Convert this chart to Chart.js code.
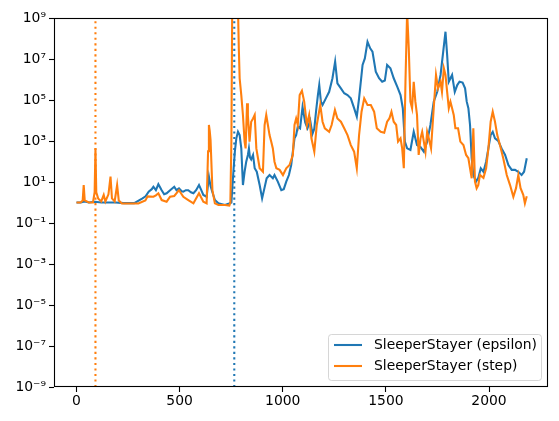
<!DOCTYPE html>
<html>
<head>
<meta charset="utf-8">
<script src="https://cdn.jsdelivr.net/npm/chart.js@4"></script>
<style>
  html,body{margin:0;padding:0;background:#fff;}
  canvas{display:block;}
</style>
</head>
<body>
<canvas id="chart" width="559" height="421"></canvas>
<script>
/* ---------- data (y kept as log10) ---------- */
const epsilonX = [
  0, 20, 40, 60, 90, 120, 150, 190, 230, 280,
  320, 335, 350, 365, 373, 385, 397, 413, 425, 437,
  454, 474, 485, 497, 510, 518, 530, 542, 555, 567,
  580, 594, 605, 615, 631, 642, 650, 659, 671, 688,
  705, 720, 740, 751, 756, 762, 768, 775, 783, 791,
  799, 807, 815, 823, 831, 836, 841, 847, 856, 864,
  874, 888, 900, 911, 922, 936, 952, 960, 976, 993,
  1005, 1017, 1030, 1041, 1057, 1065, 1073, 1084, 1096, 1109,
  1120, 1133, 1144, 1153, 1162, 1170, 1177, 1185, 1193, 1209,
  1225, 1241, 1254, 1265, 1282, 1298, 1314, 1330, 1346, 1359,
  1370, 1387, 1398, 1411, 1424, 1435, 1451, 1467, 1482, 1495,
  1506, 1522, 1538, 1555, 1571, 1582, 1592, 1603, 1619, 1635,
  1651, 1668, 1684, 1700, 1716, 1732, 1749, 1765, 1778, 1789,
  1797, 1805, 1821, 1834, 1846, 1857, 1872, 1884, 1892, 1900,
  1908, 1916, 1924, 1937, 1948, 1960, 1973, 1986, 1997, 2008,
  2018, 2029, 2045, 2061, 2078, 2094, 2110, 2126, 2142, 2158,
  2170, 2183
];
const epsilonExp = [
  0, 0, 0.05, 0, 0.04, 0, 0, 0, -0.03, -0.03,
  0.2, 0.3, 0.53, 0.65, 0.77, 0.6, 0.89, 0.6, 0.4, 0.45,
  0.6, 0.77, 0.6, 0.69, 0.55, 0.53, 0.6, 0.6, 0.5, 0.45,
  0.6, 0.85, 0.6, 0.37, 0.28, 1.26, 0.8, 0.5, 0.12, -0.04,
  -0.08, -0.12, -0.05, 0, 0.8, 1.67, 2.5, 3.13, 3.45, 3.29,
  2.64, 0.85, 1.5, 1.99, 2.32, 2.64, 2.2, 2.1, 2.32, 1.67,
  1.5, 0.85, 0.2, 0.69, 1.18, 1.34, 1.18, 1.34, 1.02, 0.6,
  0.65, 1.02, 1.34, 1.83, 3.13, 3.29, 3.7, 3.62, 4.67, 3.9,
  3.62, 4.0, 3.35, 3.6, 4.5, 5.2, 5.73, 4.92, 4.76, 5.08,
  5.4, 6.06, 6.87, 5.81, 5.57, 5.33, 5.24, 5.08, 4.6, 4.19,
  5.08, 6.71, 7.03, 7.84, 7.52, 7.36, 6.38, 6.06, 5.89, 5.95,
  6.71, 6.55, 6.06, 5.65, 5.24, 4.6, 2.97, 2.64, 2.56, 3.45,
  2.8, 2.7, 2.48, 2.97, 3.78, 4.92, 5.4, 6.22, 7.36, 8.33,
  7.2, 5.89, 6.22, 5.4, 5.73, 5.89, 5.85, 5.57, 4.92, 4.6,
  3.78, 2.16, 1.34, 1.02, 1.2, 1.67, 1.5, 1.99, 2.64, 3.29,
  3.45, 3.13, 3.0, 2.64, 2.32, 1.83, 1.59, 1.59, 1.5, 1.34,
  1.5, 2.16
];
const stepX = [
  0, 20, 30, 35, 40, 60, 80, 88, 92, 96,
  105, 120, 132, 140, 155, 165, 172, 185, 197, 205,
  220, 260, 300, 334, 345, 373, 385, 397, 413, 437,
  454, 474, 497, 518, 542, 567, 594, 615, 631, 638,
  642, 646, 650, 659, 671, 688, 720, 741, 746, 751,
  755, 783, 787, 791, 799, 807, 815, 820, 827, 831,
  839, 847, 856, 864, 872, 880, 888, 904, 912, 920,
  928, 936, 944, 952, 960, 969, 985, 1001, 1017, 1033,
  1049, 1057, 1065, 1073, 1082, 1093, 1104, 1117, 1128, 1139,
  1153, 1165, 1182, 1193, 1204, 1225, 1237, 1253, 1265, 1282,
  1298, 1314, 1330, 1346, 1359, 1370, 1382, 1395, 1411, 1427,
  1443, 1456, 1475, 1492, 1506, 1517, 1527, 1538, 1550, 1559,
  1571, 1579, 1587, 1595, 1603, 1611, 1619, 1627, 1635, 1643,
  1651, 1659, 1668, 1676, 1684, 1692, 1700, 1708, 1719, 1732,
  1743, 1753, 1765, 1772, 1781, 1789, 1797, 1805, 1813, 1821,
  1829, 1837, 1850, 1861, 1876, 1889, 1900, 1908, 1916, 1924,
  1932, 1940, 1948, 1956, 1973, 1986, 1997, 2008, 2018, 2029,
  2040, 2053, 2069, 2086, 2102, 2118, 2131, 2142, 2153, 2166,
  2174, 2183
];
const stepExp = [
  0, 0, 0.1, 0.85, 0.1, 0, 0, 0.5, 2.64, 0.5,
  0.2, 0.05, 0.37, 0.05, 0.4, 1.26, 0.2, 0.05, 0.85, 0.1,
  -0.05, -0.05, -0.05, 0.1, 0.3, 0.28, 0.35, 0.45, 0.12, 0.04,
  0.28, 0.32, 0.6, 0.28, 0.12, -0.04, 0.45, 0.04, -0.04, 2.5,
  3.78, 3.5, 3.05, 0.6, -0.04, -0.12, -0.12, -0.15, 0, 3,
  9.5, 9.5, 7.52, 6.06, 5.24, 4.27, 2.97, 2.64, 4.84, 4.27,
  2.97, 3.94, 4.1, 4.27, 2.64, 2.16, 1.67, 1.5, 3.78, 4.27,
  3.78, 3.29, 2.97, 2.64, 1.99, 1.67, 1.59, 1.34, 1.67, 1.83,
  2.32, 3.78, 4.1, 3.78, 5.24, 5.45, 4.92, 3.78, 4.27, 3.13,
  2.48, 3.78, 4.76, 3.94, 3.62, 3.45, 3.78, 4.51, 4.1, 3.94,
  3.62, 3.29, 2.8, 2.48, 1.67, 3.29, 4.43, 5.08, 4.76, 4.76,
  4.43, 3.62, 3.45, 3.4, 3.94, 4.1, 4.43, 3.94, 3.78, 2.97,
  3.13, 2.64, 1.67, 5.89, 9.3, 7.52, 4.92, 4.6, 5.89, 4.92,
  4.27, 2.32, 3.13, 3.45, 2.97, 2.48, 3.45, 3.13, 2.64, 4.6,
  6.22, 5.57, 5.89, 5.4, 6.55, 6.22, 5.4, 4.6, 4.92, 4.6,
  4.27, 3.62, 3.62, 2.97, 2.8, 2.32, 2.16, 1.67, 1.18, 3.62,
  1.02, 0.69, 0.85, 1.34, 1.2, 1.67, 2.64, 3.94, 4.43, 3.94,
  3.29, 2.8, 2.16, 1.34, 0.85, 0.28, 0.7, 1.34, 0.7, 0.37,
  -0.04, 0.3
];
const seriesNames = ['SleeperStayer (epsilon)', 'SleeperStayer (step)'];
const seriesColors = ['#1f77b4', '#ff7f0e'];
const markerX = [765, 92];              // dotted vertical lines: epsilon, step
const xTicks = [0, 500, 1000, 1500, 2000];
const yTickExps = [-9, -7, -5, -3, -1, 1, 3, 5, 7, 9];
const yTickLabels = ['10⁻⁹','10⁻⁷','10⁻⁵','10⁻³','10⁻¹','10¹','10³','10⁵','10⁷','10⁹'];

/* ---------- helpers ---------- */
const FONT = 'DejaVu Sans';
const LW = 2.08;                        // 1.5pt at 100 dpi
const pts = (xs, es) => xs.map((x, i) => ({ x, y: Math.pow(10, es[i]) }));
const vline = x => [{ x, y: 1e-9 }, { x, y: 1e9 }];

/* frame + legend drawn like matplotlib */
const mplDecor = {
  id: 'mplDecor',
  afterDatasetsDraw(c){
    const { ctx, chartArea:a } = c;
    ctx.save();
    ctx.strokeStyle = '#000'; ctx.lineWidth = 1.1;
    ctx.strokeRect(Math.round(a.left)+0.5, Math.round(a.top)+0.5,
                   Math.round(a.right-a.left)-1, Math.round(a.bottom-a.top)-1);
    ctx.restore();
  },
  afterDraw(c){
    const { ctx, chartArea:a } = c;
    const w = 213, h = 46, x0 = a.right - 7 - w, y0 = a.bottom - 7 - h;
    ctx.save();
    ctx.beginPath();
    ctx.roundRect(x0 + 0.5, y0 + 0.5, w, h, 3);
    ctx.fillStyle = 'rgba(255,255,255,0.8)'; ctx.fill();
    ctx.strokeStyle = 'rgba(204,204,204,0.8)'; ctx.lineWidth = 1; ctx.stroke();
    ctx.font = `13.9px "${FONT}"`;
    ctx.textBaseline = 'middle';
    seriesNames.forEach((name, i) => {
      const yy = y0 + 11 + i * 21;
      ctx.strokeStyle = seriesColors[i]; ctx.lineWidth = LW;
      ctx.beginPath(); ctx.moveTo(x0 + 6, yy); ctx.lineTo(x0 + 34, yy); ctx.stroke();
      ctx.fillStyle = '#000';
      ctx.fillText(name, x0 + 46, yy);
    });
    ctx.restore();
  }
};

/* ---------- chart ---------- */
new Chart(document.getElementById('chart').getContext('2d'), {
  type: 'line',
  data: {
    datasets: [
      { label: seriesNames[0], data: pts(epsilonX, epsilonExp), borderColor: seriesColors[0],
        borderWidth: LW, pointRadius: 0, tension: 0, order: 3 },
      { label: seriesNames[1], data: pts(stepX, stepExp), borderColor: seriesColors[1],
        borderWidth: LW, pointRadius: 0, tension: 0, order: 2 },
      { label: 'eps-mark', data: vline(markerX[0]), borderColor: seriesColors[0],
        borderWidth: LW, borderDash: [2.08, 3.43], pointRadius: 0, order: 1 },
      { label: 'step-mark', data: vline(markerX[1]), borderColor: seriesColors[1],
        borderWidth: LW, borderDash: [2.08, 3.43], pointRadius: 0, order: 1 }
    ]
  },
  options: {
    responsive: false,
    animation: false,
    devicePixelRatio: 1,
    layout: { padding: { top: 18, right: 11, left: 0, bottom: 0 } },
    plugins: { legend: { display: false }, tooltip: { enabled: false } },
    scales: {
      x: {
        type: 'linear', min: -109, max: 2286,
        afterBuildTicks: s => { s.ticks = xTicks.map(v => ({ value: v })); },
        afterFit: s => { s.height = 34; },
        grid: { display: true, drawOnChartArea: false, drawTicks: true, tickLength: 5, tickWidth: 1.1, color: '#000' },
        border: { display: false },
        ticks: { color: '#000', font: { family: FONT, size: 13.9 }, padding: 1, maxRotation: 0,
                 callback: v => String(v) }
      },
      y: {
        type: 'logarithmic', min: 1e-9, max: 1e9,
        afterBuildTicks: s => { s.ticks = yTickExps.map(e => ({ value: Math.pow(10, e) })); },
        afterFit: s => { s.width = 54; },
        grid: { display: true, drawOnChartArea: false, drawTicks: true, tickLength: 5, tickWidth: 1.1, color: '#000' },
        border: { display: false },
        ticks: {
          color: '#000', font: { family: FONT, size: 13.9 }, padding: 3,
          callback: v => yTickLabels[yTickExps.indexOf(Math.round(Math.log10(v)))]
        }
      }
    }
  },
  plugins: [mplDecor]
});
</script>
</body>
</html>
